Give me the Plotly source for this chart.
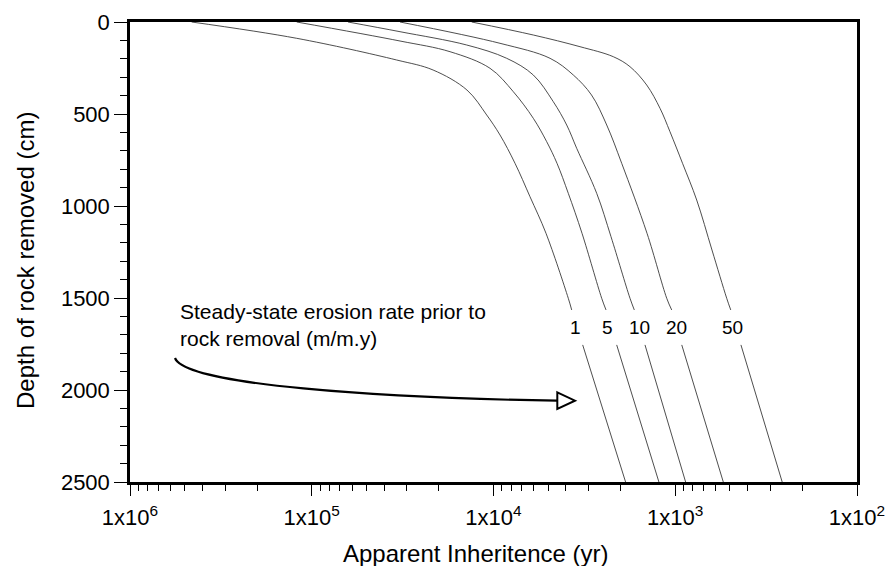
import numpy as np
import plotly.graph_objects as go

# ---- data (depth in cm, apparent inheritance in yr) ----
rates = ["1", "5", "10", "20", "50"]

depth_1 = [0, 88.6, 206.5, 260.9, 369.6, 505.4, 614.1, 767.9, 949.4, 1148.4, 1501.6, 1565, None, 1755, 2500]
age_1 = [4.58e5, 1.21e5, 3.41e4, 2.15e4, 1.40e4, 1.09e4, 9210, 7615, 6298, 5142, 3877, 3713, None, 3230, 1876]

depth_5 = [0, 103.3, 161.4, 251.6, 378.8, 523.4, 650.5, 767.9, 931, 1148.4, 1501.6, 1565, None, 1755, 2500]
age_5 = [1.21e5, 32690, 17350, 10450, 7780, 6039, 5097, 4474, 3877, 3258, 2539, 2404, None, 2100, 1230]

depth_10 = [0, 52.7, 125, 197.3, 288, 433.2, 559.8, 686.4, 931, 1166.9, 1501.6, 1565, None, 1755, 2500]
age_10 = [63180, 32690, 14040, 8460, 6039, 4688, 3956, 3485, 2705, 2257, 1774, 1680, None, 1467, 877]

depth_20 = [0, 115.8, 197.3, 288, 396.7, 559.8, 767.9, 1148.4, 1501.6, 1565, None, 1755, 2500]
age_20 = [32690, 9210, 4887, 3638, 2889, 2383, 1971, 1430, 1114, 1046, None, 921, 544]

depth_50 = [0, 70.7, 134.2, 188.6, 242.9, 342.4, 469, 596.2, 767.9, 967.4, 1239.1, 1501.6, 1565, None, 1755, 2500]
age_50 = [13180, 6039, 3343, 2192, 1774, 1436, 1213, 1069, 912, 762, 628, 521, 495, None, 435, 258]

label_age = [3560, 2370, 1580, 990, 487]
label_depth = 1660

x_tickvals = [1e6, 1e5, 1e4, 1e3, 1e2]
x_ticktext = ["1x10<sup>6</sup>", "1x10<sup>5</sup>", "1x10<sup>4</sup>", "1x10<sup>3</sup>", "1x10<sup>2</sup>"]

note_text = "Steady-state erosion rate prior to<br>rock removal (m/m.y)"

FONT = "Liberation Sans, Arial, Helvetica, sans-serif"
OFF = 8                      # default page margin around the plot div
W, H = 879, 558
L, R, T, B = 122, 30, 14, 84
PW, PH = W - L - R, H - T - B


def paper(px, py):
    """window pixel -> paper fraction"""
    fx, fy = px - OFF, py - OFF
    return (fx - L) / PW, (H - B - fy) / PH


fig = go.Figure()
series = [(depth_1, age_1), (depth_5, age_5), (depth_10, age_10), (depth_20, age_20), (depth_50, age_50)]
for name, (d, a) in zip(rates, series):
    fig.add_trace(go.Scatter(
        x=a, y=d, mode="lines", name=name,
        line=dict(color="#3a3a3a", width=0.9, shape="spline", smoothing=1.0),
        connectgaps=False, showlegend=False, hoverinfo="x+y",
    ))

for name, a in zip(rates, label_age):
    fig.add_annotation(x=np.log10(a), y=label_depth, xref="x", yref="y", text=name,
                       showarrow=False, xanchor="center", yanchor="middle",
                       font=dict(family=FONT, size=19, color="black"))

fig.add_annotation(x=paper(178, 0)[0], y=paper(0, 325)[1], xref="paper", yref="paper",
                   text=note_text, showarrow=False, xanchor="left", yanchor="middle", align="left",
                   font=dict(family=FONT, size=21, color="black"))

# curved arrow
pts = [(175, 358), (185, 385), (380, 398), (557, 400.7)]
pp = [paper(*p) for p in pts]
path = "M {:.5f},{:.5f} C {:.5f},{:.5f} {:.5f},{:.5f} {:.5f},{:.5f}".format(
    pp[0][0], pp[0][1], pp[1][0], pp[1][1], pp[2][0], pp[2][1], pp[3][0], pp[3][1])
fig.add_shape(type="path", path=path, xref="paper", yref="paper",
              line=dict(color="black", width=2.2))
tri = [paper(557.3, 392.3), paper(575, 400.7), paper(557.3, 409)]
tpath = "M {:.5f},{:.5f} L {:.5f},{:.5f} L {:.5f},{:.5f} Z".format(
    tri[0][0], tri[0][1], tri[1][0], tri[1][1], tri[2][0], tri[2][1])
fig.add_shape(type="path", path=tpath, xref="paper", yref="paper",
              line=dict(color="black", width=2), fillcolor="white")

# axis titles
fig.add_annotation(x=paper(475.5, 0)[0], y=paper(0, 553)[1], xref="paper", yref="paper",
                   text="Apparent Inheritence (yr)", showarrow=False,
                   xanchor="center", yanchor="middle",
                   font=dict(family=FONT, size=24, color="black"))
fig.add_annotation(x=paper(25, 0)[0], y=paper(0, 261)[1], xref="paper", yref="paper",
                   text="Depth of rock removed (cm)", showarrow=False, textangle=-90,
                   xanchor="center", yanchor="middle",
                   font=dict(family=FONT, size=24, color="black"))

minor_x = [m * 10 ** k for k in range(2, 6) for m in range(2, 10)]

fig.update_layout(
    width=W, height=H,
    margin=dict(l=L, r=R, t=T, b=B, autoexpand=False),
    plot_bgcolor="white", paper_bgcolor="white",
    font=dict(family=FONT, color="black"),
    xaxis=dict(
        type="log", range=[6, 2], tickmode="array", tickvals=x_tickvals, ticktext=x_ticktext,
        ticks="outside", ticklen=11, tickwidth=1.2, tickcolor="black",
        showline=True, linecolor="black", linewidth=2.5, mirror=True,
        showgrid=False, zeroline=False, automargin=False, ticklabelstandoff=3,
        tickfont=dict(family=FONT, size=22, color="black"),
        minor=dict(tickmode="array", tickvals=minor_x, ticks="outside", ticklen=6,
                   tickwidth=1, tickcolor="black", showgrid=False),
    ),
    yaxis=dict(
        range=[2500, 0], tickmode="linear", tick0=0, dtick=500,
        ticks="outside", ticklen=13, tickwidth=1.2, tickcolor="black",
        showline=True, linecolor="black", linewidth=2.5, mirror=True,
        showgrid=False, zeroline=False, automargin=False,
        tickfont=dict(family=FONT, size=22, color="black"),
        minor=dict(dtick=100, ticks="outside", ticklen=7, tickwidth=1, tickcolor="black",
                   showgrid=False),
    ),
)

fig.write_html("out.html")
